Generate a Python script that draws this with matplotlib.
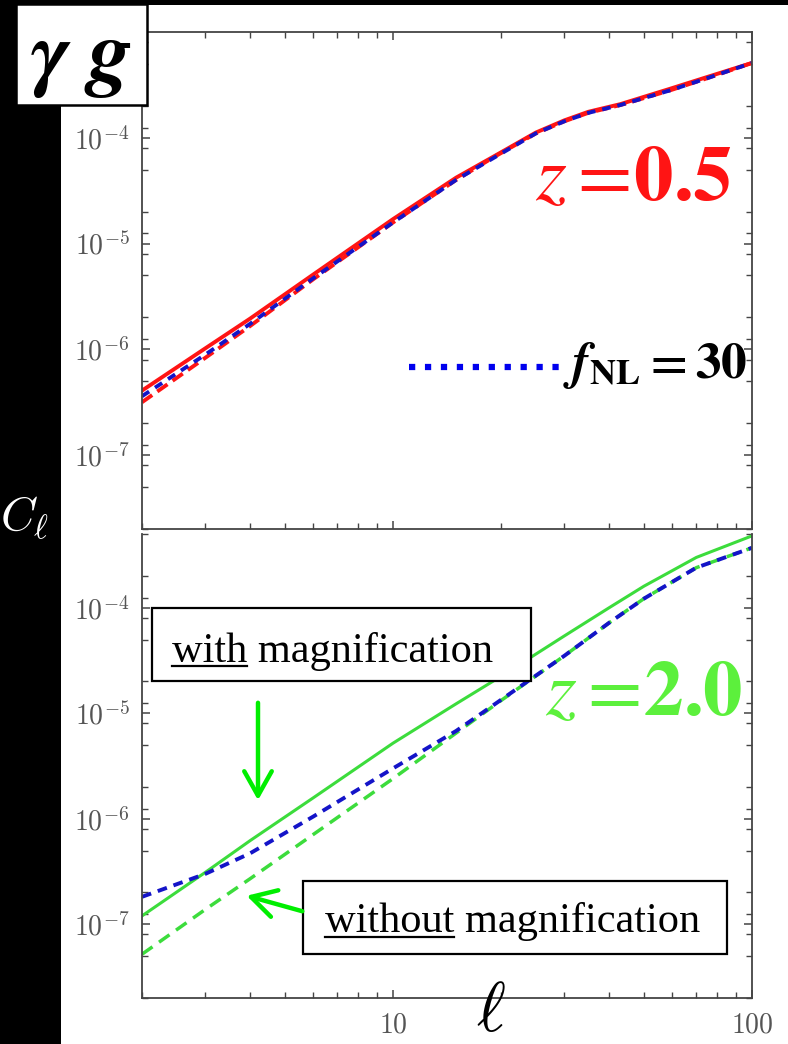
import matplotlib
matplotlib.use('Agg')
import matplotlib.pyplot as plt
from matplotlib.patches import Rectangle, FancyArrowPatch
from matplotlib.lines import Line2D
from matplotlib.ticker import FixedLocator, LogLocator, NullFormatter, FuncFormatter
import numpy as np

plt.rcParams['mathtext.fontset'] = 'cm'

# panneau du haut : z = 0.5
ell_top = [2, 3, 4, 6, 10, 15, 19, 25, 30, 35, 43, 59, 74, 100]
cl_top_mag = [4.07e-7, 1.02e-6, 1.95e-6, 5.1e-6, 1.70e-5, 4.2e-5, 6.6e-5,
              1.12e-4, 1.46e-4, 1.76e-4, 2.08e-4, 2.9e-4, 3.7e-4, 5.1e-4]
cl_top_nomag = [3.16e-7, 8.3e-7, 1.66e-6, 4.6e-6, 1.58e-5, 4.0e-5, 6.5e-5,
                1.10e-4, 1.43e-4, 1.72e-4, 2.04e-4, 2.8e-4, 3.6e-4, 5.1e-4]
cl_top_fnl = [3.6e-7, 8.9e-7, 1.74e-6, 4.7e-6, 1.58e-5, 4.0e-5, 6.4e-5,
              1.10e-4, 1.43e-4, 1.72e-4, 2.04e-4, 2.8e-4, 3.6e-4, 5.1e-4]

# panneau du bas : z = 2.0
ell_bot = [2, 3, 4, 6, 10, 15, 20, 30, 40, 50, 70, 100]
cl_bot_mag = [1.20e-7, 3.1e-7, 6.2e-7, 1.58e-6, 5.2e-6, 1.23e-5, 2.24e-5,
              5.4e-5, 1.0e-4, 1.6e-4, 3.0e-4, 4.8e-4]
cl_bot_nomag = [5.2e-8, 1.38e-7, 2.7e-7, 7.1e-7, 2.4e-6, 6.5e-6, 1.32e-5,
                3.5e-5, 7.2e-5, 1.22e-4, 2.4e-4, 3.7e-4]
cl_bot_fnl = [1.82e-7, 3.0e-7, 4.7e-7, 1.05e-6, 3.0e-6, 6.8e-6, 1.34e-5,
              3.5e-5, 7.2e-5, 1.22e-4, 2.4e-4, 3.7e-4]

W, H = 788, 1044
RED = '#ff1414'
BLUE = '#1414c8'
GREEN = '#3cdc3c'
GREEN_TXT = '#5cf03c'
GREEN_ARR = '#00ee00'
SPINE = '#444444'


def fx(px):
    return px / W


def fy(py):
    return 1 - py / H


fig = plt.figure(figsize=(W / 100, H / 100), dpi=100, facecolor='black')
fig.add_artist(Rectangle((fx(61), 0), 1, fy(5), transform=fig.transFigure,
                         facecolor='white', edgecolor='none', zorder=-5))

ax1 = fig.add_axes([fx(142), fy(529), fx(752) - fx(142), fy(32) - fy(529)])
ax2 = fig.add_axes([fx(142), fy(998), fx(752) - fx(142), fy(534) - fy(998)])

ax1.plot(ell_top, cl_top_mag, color=RED, lw=2.8)
ax1.plot(ell_top, cl_top_nomag, color=RED, lw=2.8, dashes=(3.2, 1.6))
ax1.plot(ell_top, cl_top_fnl, color=BLUE, lw=2.8, dashes=(2.2, 1.8))

ax2.plot(ell_bot, cl_bot_mag, color=GREEN, lw=2.2)
ax2.plot(ell_bot, cl_bot_nomag, color=GREEN, lw=2.5, dashes=(3.7, 2.3))
ax2.plot(ell_bot, cl_bot_fnl, color=BLUE, lw=2.8, dashes=(2.5, 1.8))

ax1.set_ylim(2e-8, 1e-3)
ax2.set_ylim(2e-8, 5e-4)

minor_y = []
for e in range(-9, -2):
    for m in (1.25, 2, 5, 8):
        minor_y.append(m * 10.0 ** e)

for ax in (ax1, ax2):
    ax.set_xscale('log')
    ax.set_yscale('log')
    ax.set_xlim(2, 100)
    ax.yaxis.set_major_locator(FixedLocator([1e-7, 1e-6, 1e-5, 1e-4]))
    ax.yaxis.set_minor_locator(FixedLocator(minor_y))
    ax.yaxis.set_minor_formatter(NullFormatter())
    ax.yaxis.set_major_formatter(FuncFormatter(lambda v, p: r'$10^{%d}$' % round(np.log10(v))))
    ax.xaxis.set_major_locator(FixedLocator([10, 100]))
    ax.xaxis.set_major_formatter(FuncFormatter(lambda v, p: r'$%d$' % v))
    ax.xaxis.set_minor_locator(LogLocator(base=10, subs=np.arange(2, 10)))
    ax.xaxis.set_minor_formatter(NullFormatter())
    ax.tick_params(which='both', direction='in', right=True, color=SPINE)
    ax.tick_params(which='major', length=6, width=1.1)
    ax.tick_params(which='minor', length=4, width=1.0)
    ax.tick_params(axis='y', labelsize=20, labelcolor='#555555', pad=9)
    ax.tick_params(axis='x', labelsize=20, labelcolor='#555555', pad=9)
    for s in ax.spines.values():
        s.set_color(SPINE)
        s.set_linewidth(1.3)

ax1.tick_params(which='both', top=True, labelbottom=False)
ax2.spines['top'].set_visible(False)

# étiquettes d'axes
fig.text(fx(0), fy(518), r'$C_\ell$', color='white', fontsize=34,
         ha='left', va='center')
fig.text(fx(491), fy(1012), r'$\ell$', color='black', fontsize=50,
         ha='center', va='center')

# boîte gamma g
fig.add_artist(Rectangle((fx(16), fy(105)), fx(147) - fx(16), fy(4) - fy(105),
                         transform=fig.transFigure, facecolor='white',
                         edgecolor='black', lw=1.8, zorder=5))
fig.text(fx(81), fy(58), r'$\mathbfit{\gamma\ g}$', math_fontfamily='stix',
         fontsize=62, ha='center', va='center', zorder=6)

# redshifts
fig.text(fx(732), fy(200), r'$z=\!\mathbf{0.5}$', math_fontfamily='stix',
         color=RED, fontsize=57, ha='right', va='baseline')
fig.text(fx(742), fy(715), r'$z=\!\mathbf{2.0}$', math_fontfamily='stix',
         color=GREEN_TXT, fontsize=57, ha='right', va='baseline')

# légende fNL
fig.add_artist(Line2D([fx(409), fx(561)], [fy(367), fy(367)], transform=fig.transFigure,
                      color='#0000ee', lw=4.5, dashes=(1.0, 1.55),
                      dash_capstyle='butt', zorder=4))
fig.text(fx(747), fy(378), r'$\mathbfit{f}_{\mathbf{NL}}\mathbf{=30}$',
         math_fontfamily='stix', color='black', fontsize=37,
         ha='right', va='baseline')

# boîtes d'annotation
fig.add_artist(Rectangle((fx(152), fy(681)), fx(531) - fx(152), fy(608) - fy(681),
                         transform=fig.transFigure, facecolor='white',
                         edgecolor='black', lw=1.6, zorder=5))
fig.add_artist(Rectangle((fx(303), fy(954)), fx(727) - fx(303), fy(881) - fy(954),
                         transform=fig.transFigure, facecolor='white',
                         edgecolor='black', lw=1.6, zorder=5))

FS = 30.5
fig.text(fx(172), fy(662), 'with magnification', fontfamily='Liberation Serif',
         fontsize=FS, ha='left', va='baseline', zorder=6)
fig.text(fx(325), fy(932), 'without magnification', fontfamily='Liberation Serif',
         fontsize=FS, ha='left', va='baseline', zorder=6)
p1 = fig.text(fx(172), fy(662), 'with', fontfamily='Liberation Serif',
              fontsize=FS, ha='left', va='baseline', alpha=0)
p2 = fig.text(fx(325), fy(932), 'without', fontfamily='Liberation Serif',
              fontsize=FS, ha='left', va='baseline', alpha=0)

fig.canvas.draw()
r = fig.canvas.get_renderer()
for probe, ypx in ((p1, 666), (p2, 937)):
    bb = probe.get_window_extent(r)
    fig.add_artist(Line2D([bb.x0 / W, bb.x1 / W], [fy(ypx), fy(ypx)],
                          transform=fig.transFigure, color='black', lw=1.6, zorder=6))
    probe.remove()

# flèches vertes
fig.add_artist(FancyArrowPatch(
    (fx(258), fy(700)), (fx(258), fy(803)), transform=fig.transFigure,
    arrowstyle='->, head_length=0.8, head_width=0.45', mutation_scale=22,
    color=GREEN_ARR, lw=3.2, zorder=6))
fig.add_artist(FancyArrowPatch(
    (fx(305), fy(912)), (fx(244), fy(895)), transform=fig.transFigure,
    arrowstyle='->, head_length=0.8, head_width=0.45', mutation_scale=22,
    color=GREEN_ARR, lw=3.2, zorder=6))

fig.savefig('out.png', dpi=100, facecolor='black')
